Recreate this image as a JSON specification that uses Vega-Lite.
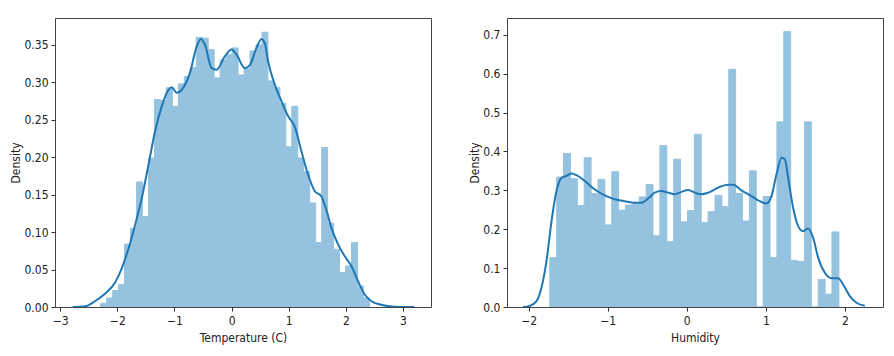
{
  "$schema": "https://vega.github.io/schema/vega-lite/v6.json",
  "padding": {"left": 9, "top": 17, "right": 5, "bottom": 5},
  "background": "white",
  "config": {
    "view": {"stroke": "#444", "strokeWidth": 1},
    "font": "DejaVu Sans Condensed, Liberation Sans",
    "axis": {
      "domain": false,
      "grid": false,
      "tickColor": "#333",
      "tickSize": 4,
      "labelColor": "#222",
      "labelFont": "DejaVu Sans Condensed, Liberation Sans",
      "labelFontSize": 12,
      "titleFont": "DejaVu Sans Condensed, Liberation Sans",
      "titleFontSize": 12,
      "titleFontWeight": "normal",
      "titleColor": "#222"
    }
  },
  "datasets": {
    "tempBars": [
      {"x0": -2.290, "x1": -2.186, "d": 0.005},
      {"x0": -2.186, "x1": -2.081, "d": 0.012},
      {"x0": -2.081, "x1": -1.977, "d": 0.022},
      {"x0": -1.977, "x1": -1.872, "d": 0.030},
      {"x0": -1.872, "x1": -1.768, "d": 0.084},
      {"x0": -1.768, "x1": -1.663, "d": 0.105},
      {"x0": -1.663, "x1": -1.559, "d": 0.167},
      {"x0": -1.559, "x1": -1.454, "d": 0.121},
      {"x0": -1.454, "x1": -1.350, "d": 0.199},
      {"x0": -1.350, "x1": -1.245, "d": 0.277},
      {"x0": -1.245, "x1": -1.141, "d": 0.276},
      {"x0": -1.141, "x1": -1.036, "d": 0.293},
      {"x0": -1.036, "x1": -0.932, "d": 0.268},
      {"x0": -0.932, "x1": -0.827, "d": 0.298},
      {"x0": -0.827, "x1": -0.723, "d": 0.308},
      {"x0": -0.723, "x1": -0.618, "d": 0.320},
      {"x0": -0.618, "x1": -0.514, "d": 0.360},
      {"x0": -0.514, "x1": -0.409, "d": 0.359},
      {"x0": -0.409, "x1": -0.305, "d": 0.344},
      {"x0": -0.305, "x1": -0.200, "d": 0.306},
      {"x0": -0.200, "x1": -0.096, "d": 0.330},
      {"x0": -0.096, "x1": 0.009, "d": 0.337},
      {"x0": 0.009, "x1": 0.114, "d": 0.346},
      {"x0": 0.114, "x1": 0.218, "d": 0.310},
      {"x0": 0.218, "x1": 0.323, "d": 0.318},
      {"x0": 0.323, "x1": 0.427, "d": 0.342},
      {"x0": 0.427, "x1": 0.532, "d": 0.350},
      {"x0": 0.532, "x1": 0.636, "d": 0.367},
      {"x0": 0.636, "x1": 0.741, "d": 0.302},
      {"x0": 0.741, "x1": 0.845, "d": 0.293},
      {"x0": 0.845, "x1": 0.950, "d": 0.272},
      {"x0": 0.950, "x1": 1.054, "d": 0.214},
      {"x0": 1.054, "x1": 1.159, "d": 0.268},
      {"x0": 1.159, "x1": 1.263, "d": 0.199},
      {"x0": 1.263, "x1": 1.368, "d": 0.181},
      {"x0": 1.368, "x1": 1.472, "d": 0.139},
      {"x0": 1.472, "x1": 1.577, "d": 0.086},
      {"x0": 1.577, "x1": 1.681, "d": 0.213},
      {"x0": 1.681, "x1": 1.786, "d": 0.112},
      {"x0": 1.786, "x1": 1.890, "d": 0.077},
      {"x0": 1.890, "x1": 1.995, "d": 0.046},
      {"x0": 1.995, "x1": 2.099, "d": 0.055},
      {"x0": 2.099, "x1": 2.204, "d": 0.086},
      {"x0": 2.204, "x1": 2.308, "d": 0.028},
      {"x0": 2.308, "x1": 2.413, "d": 0.012}
    ],
    "tempKde": [
      {"x": -2.78, "d": 0.0},
      {"x": -2.56, "d": 0.001},
      {"x": -2.385, "d": 0.008},
      {"x": -2.21, "d": 0.018},
      {"x": -2.036, "d": 0.033},
      {"x": -1.92, "d": 0.052},
      {"x": -1.80, "d": 0.079},
      {"x": -1.687, "d": 0.110},
      {"x": -1.57, "d": 0.146},
      {"x": -1.454, "d": 0.190},
      {"x": -1.338, "d": 0.235},
      {"x": -1.222, "d": 0.268},
      {"x": -1.105, "d": 0.290},
      {"x": -1.047, "d": 0.2935},
      {"x": -0.96, "d": 0.286},
      {"x": -0.844, "d": 0.293},
      {"x": -0.727, "d": 0.313},
      {"x": -0.611, "d": 0.348},
      {"x": -0.535, "d": 0.358},
      {"x": -0.465, "d": 0.350},
      {"x": -0.349, "d": 0.319},
      {"x": -0.262, "d": 0.317},
      {"x": -0.116, "d": 0.335},
      {"x": 0.0, "d": 0.344},
      {"x": 0.087, "d": 0.337},
      {"x": 0.233, "d": 0.319},
      {"x": 0.32, "d": 0.323},
      {"x": 0.436, "d": 0.346},
      {"x": 0.524, "d": 0.358},
      {"x": 0.582, "d": 0.352},
      {"x": 0.64, "d": 0.328},
      {"x": 0.756, "d": 0.297},
      {"x": 0.873, "d": 0.275},
      {"x": 0.989, "d": 0.255},
      {"x": 1.105, "d": 0.241},
      {"x": 1.222, "d": 0.208},
      {"x": 1.338, "d": 0.177},
      {"x": 1.454, "d": 0.155},
      {"x": 1.57, "d": 0.148},
      {"x": 1.658, "d": 0.130},
      {"x": 1.745, "d": 0.106},
      {"x": 1.862, "d": 0.084},
      {"x": 1.978, "d": 0.068},
      {"x": 2.094, "d": 0.055},
      {"x": 2.21, "d": 0.035},
      {"x": 2.327, "d": 0.017},
      {"x": 2.443, "d": 0.008},
      {"x": 2.618, "d": 0.003},
      {"x": 2.85, "d": 0.0005},
      {"x": 3.2, "d": 0.0}
    ],
    "humBars": [
      {"x0": -1.732, "x1": -1.645, "d": 0.127},
      {"x0": -1.645, "x1": -1.558, "d": 0.334},
      {"x0": -1.558, "x1": -1.471, "d": 0.395},
      {"x0": -1.471, "x1": -1.384, "d": 0.330},
      {"x0": -1.384, "x1": -1.297, "d": 0.261},
      {"x0": -1.297, "x1": -1.210, "d": 0.384},
      {"x0": -1.210, "x1": -1.123, "d": 0.292},
      {"x0": -1.123, "x1": -1.036, "d": 0.328},
      {"x0": -1.036, "x1": -0.949, "d": 0.211},
      {"x0": -0.949, "x1": -0.862, "d": 0.348},
      {"x0": -0.862, "x1": -0.775, "d": 0.249},
      {"x0": -0.775, "x1": -0.688, "d": 0.262},
      {"x0": -0.688, "x1": -0.601, "d": 0.265},
      {"x0": -0.601, "x1": -0.514, "d": 0.283},
      {"x0": -0.514, "x1": -0.427, "d": 0.315},
      {"x0": -0.427, "x1": -0.340, "d": 0.183},
      {"x0": -0.340, "x1": -0.253, "d": 0.415},
      {"x0": -0.253, "x1": -0.166, "d": 0.168},
      {"x0": -0.166, "x1": -0.079, "d": 0.380},
      {"x0": -0.079, "x1": 0.008, "d": 0.219},
      {"x0": 0.008, "x1": 0.095, "d": 0.248},
      {"x0": 0.095, "x1": 0.182, "d": 0.444},
      {"x0": 0.182, "x1": 0.269, "d": 0.217},
      {"x0": 0.269, "x1": 0.356, "d": 0.245},
      {"x0": 0.356, "x1": 0.443, "d": 0.287},
      {"x0": 0.443, "x1": 0.530, "d": 0.258},
      {"x0": 0.530, "x1": 0.617, "d": 0.611},
      {"x0": 0.617, "x1": 0.704, "d": 0.292},
      {"x0": 0.704, "x1": 0.791, "d": 0.221},
      {"x0": 0.791, "x1": 0.878, "d": 0.350},
      {"x0": 0.878, "x1": 0.965, "d": 0.0},
      {"x0": 0.965, "x1": 1.052, "d": 0.284},
      {"x0": 1.052, "x1": 1.139, "d": 0.127},
      {"x0": 1.139, "x1": 1.226, "d": 0.476},
      {"x0": 1.226, "x1": 1.313, "d": 0.708},
      {"x0": 1.313, "x1": 1.400, "d": 0.120},
      {"x0": 1.400, "x1": 1.487, "d": 0.117},
      {"x0": 1.487, "x1": 1.574, "d": 0.476},
      {"x0": 1.574, "x1": 1.661, "d": 0.0},
      {"x0": 1.661, "x1": 1.748, "d": 0.071},
      {"x0": 1.748, "x1": 1.835, "d": 0.033},
      {"x0": 1.835, "x1": 1.922, "d": 0.193}
    ],
    "humKde": [
      {"x": -2.07, "d": 0.0},
      {"x": -1.985, "d": 0.003},
      {"x": -1.90, "d": 0.015},
      {"x": -1.837, "d": 0.050},
      {"x": -1.774, "d": 0.118},
      {"x": -1.71, "d": 0.221},
      {"x": -1.648, "d": 0.298},
      {"x": -1.584, "d": 0.332},
      {"x": -1.52, "d": 0.337},
      {"x": -1.458, "d": 0.343},
      {"x": -1.395, "d": 0.339},
      {"x": -1.29, "d": 0.324},
      {"x": -1.163, "d": 0.302},
      {"x": -1.037, "d": 0.287},
      {"x": -0.91, "d": 0.277},
      {"x": -0.784, "d": 0.272},
      {"x": -0.657, "d": 0.268},
      {"x": -0.573, "d": 0.268},
      {"x": -0.489, "d": 0.279},
      {"x": -0.405, "d": 0.294},
      {"x": -0.32, "d": 0.298},
      {"x": -0.236, "d": 0.294},
      {"x": -0.152, "d": 0.290},
      {"x": -0.067, "d": 0.296},
      {"x": 0.017, "d": 0.301},
      {"x": 0.101, "d": 0.294},
      {"x": 0.185, "d": 0.290},
      {"x": 0.27, "d": 0.294},
      {"x": 0.396, "d": 0.307},
      {"x": 0.523, "d": 0.314},
      {"x": 0.586, "d": 0.314},
      {"x": 0.69, "d": 0.300},
      {"x": 0.818, "d": 0.285},
      {"x": 0.923, "d": 0.272},
      {"x": 1.007, "d": 0.266},
      {"x": 1.07, "d": 0.285},
      {"x": 1.134, "d": 0.341},
      {"x": 1.197, "d": 0.384},
      {"x": 1.239, "d": 0.380},
      {"x": 1.281, "d": 0.332},
      {"x": 1.344, "d": 0.255},
      {"x": 1.407, "d": 0.208},
      {"x": 1.47, "d": 0.195},
      {"x": 1.534, "d": 0.202},
      {"x": 1.597, "d": 0.178},
      {"x": 1.66, "d": 0.127},
      {"x": 1.745, "d": 0.088},
      {"x": 1.829, "d": 0.074},
      {"x": 1.913, "d": 0.074},
      {"x": 1.976, "d": 0.058},
      {"x": 2.06, "d": 0.028},
      {"x": 2.145, "d": 0.011},
      {"x": 2.25, "d": 0.003}
    ]
  },
  "hconcat": [
    {
      "width": 376,
      "height": 289,
      "layer": [
        {
          "data": {"name": "tempBars"},
          "mark": {"type": "rect", "color": "#95c3df", "stroke": "#95c3df", "strokeWidth": 1, "opacity": 1, "clip": true},
          "encoding": {
            "x": {"field": "x0", "type": "quantitative",
                  "scale": {"domain": [-3.09, 3.49], "nice": false, "zero": false},
                  "axis": {"values": [-3, -2, -1, 0, 1, 2, 3], "title": "Temperature (C)", "format": "d", "labelPadding": 4, "titlePadding": 6}},
            "x2": {"field": "x1"},
            "y": {"field": "d", "type": "quantitative",
                  "scale": {"domain": [0, 0.386], "nice": false},
                  "axis": {"values": [0, 0.05, 0.1, 0.15, 0.2, 0.25, 0.3, 0.35], "format": ".2f", "title": "Density", "labelPadding": 3, "titlePadding": 1}},
            "y2": {"datum": 0}
          }
        },
        {
          "data": {"name": "tempKde"},
          "mark": {"type": "line", "color": "#1f77b4", "strokeWidth": 2, "interpolate": "monotone", "clip": true},
          "encoding": {
            "x": {"field": "x", "type": "quantitative"},
            "y": {"field": "d", "type": "quantitative"}
          }
        }
      ]
    },
    {
      "width": 376,
      "height": 289,
      "layer": [
        {
          "data": {"name": "humBars"},
          "mark": {"type": "rect", "color": "#95c3df", "stroke": "#95c3df", "strokeWidth": 1, "opacity": 1, "clip": true},
          "encoding": {
            "x": {"field": "x0", "type": "quantitative",
                  "scale": {"domain": [-2.273, 2.48], "nice": false, "zero": false},
                  "axis": {"values": [-2, -1, 0, 1, 2], "title": "Humidity", "format": "d", "labelPadding": 4, "titlePadding": 6}},
            "x2": {"field": "x1"},
            "y": {"field": "d", "type": "quantitative",
                  "scale": {"domain": [0, 0.743], "nice": false},
                  "axis": {"values": [0, 0.1, 0.2, 0.3, 0.4, 0.5, 0.6, 0.7], "format": ".1f", "title": "Density", "labelPadding": 3, "titlePadding": 1}},
            "y2": {"datum": 0}
          }
        },
        {
          "data": {"name": "humKde"},
          "mark": {"type": "line", "color": "#1f77b4", "strokeWidth": 2, "interpolate": "monotone", "clip": true},
          "encoding": {
            "x": {"field": "x", "type": "quantitative"},
            "y": {"field": "d", "type": "quantitative"}
          }
        }
      ]
    }
  ],
  "spacing": 76,
  "bounds": "flush"
}
